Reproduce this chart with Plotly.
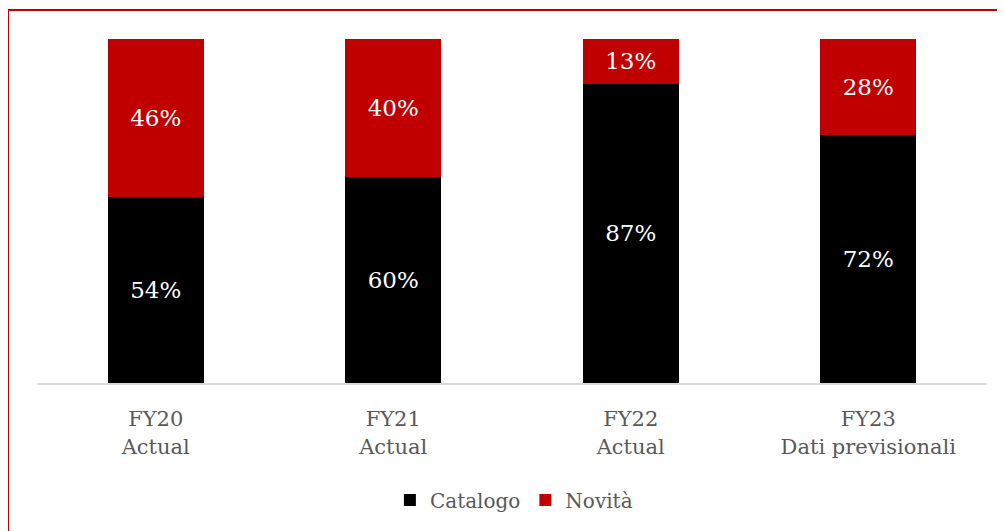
import plotly.graph_objects as go

categories = ["FY20<br>Actual", "FY21<br>Actual", "FY22<br>Actual", "FY23<br>Dati previsionali"]
catalogo = [54, 60, 87, 72]
novita = [46, 40, 13, 28]

FONT = "DejaVu Serif"
RED = "#C00000"

fig = go.Figure()
fig.add_trace(go.Bar(
    name="Catalogo", x=categories, y=catalogo,
    marker=dict(color="#000000", line=dict(width=0)),
    text=[f"{v}%" for v in catalogo], textposition="inside",
    insidetextanchor="middle",
    textfont=dict(family=FONT, size=23, color="white"),
))
fig.add_trace(go.Bar(
    name="Novità", x=categories, y=novita,
    marker=dict(color=RED, line=dict(width=0)),
    text=[f"{v}%" for v in novita], textposition="inside",
    insidetextanchor="middle",
    textfont=dict(family=FONT, size=23, color="white"),
))

fig.update_layout(
    barmode="stack",
    bargap=0.596,
    width=997, height=523,
    margin=dict(l=29, r=18, t=31, b=148),
    paper_bgcolor="white", plot_bgcolor="white",
    font=dict(family=FONT, color="#595959"),
    uniformtext=dict(minsize=10, mode="show"),
    xaxis=dict(
        showline=True, linecolor="#D9D9D9", linewidth=2,
        ticks="", tickfont=dict(family=FONT, size=21, color="#595959"),
        ticklabelstandoff=16,
        showgrid=False,
    ),
    yaxis=dict(range=[0, 100], visible=False, showgrid=False),
    legend=dict(
        orientation="h", x=0.502, xanchor="center", y=-0.34, yanchor="middle",
        font=dict(family=FONT, size=20, color="#595959"),
        traceorder="normal", itemwidth=30,
    ),
    shapes=[
        dict(type="line", xref="paper", yref="paper",
             x0=(8 - 37) / 950, x1=1.1, y0=(383 - 10) / 344, y1=(383 - 10) / 344,
             line=dict(color=RED, width=2)),
        dict(type="line", xref="paper", yref="paper",
             x0=(8 - 37) / 950, x1=(8 - 37) / 950, y0=(383 - 10) / 344, y1=-0.5,
             line=dict(color=RED, width=2)),
    ],
)

fig.write_html("out.html")
